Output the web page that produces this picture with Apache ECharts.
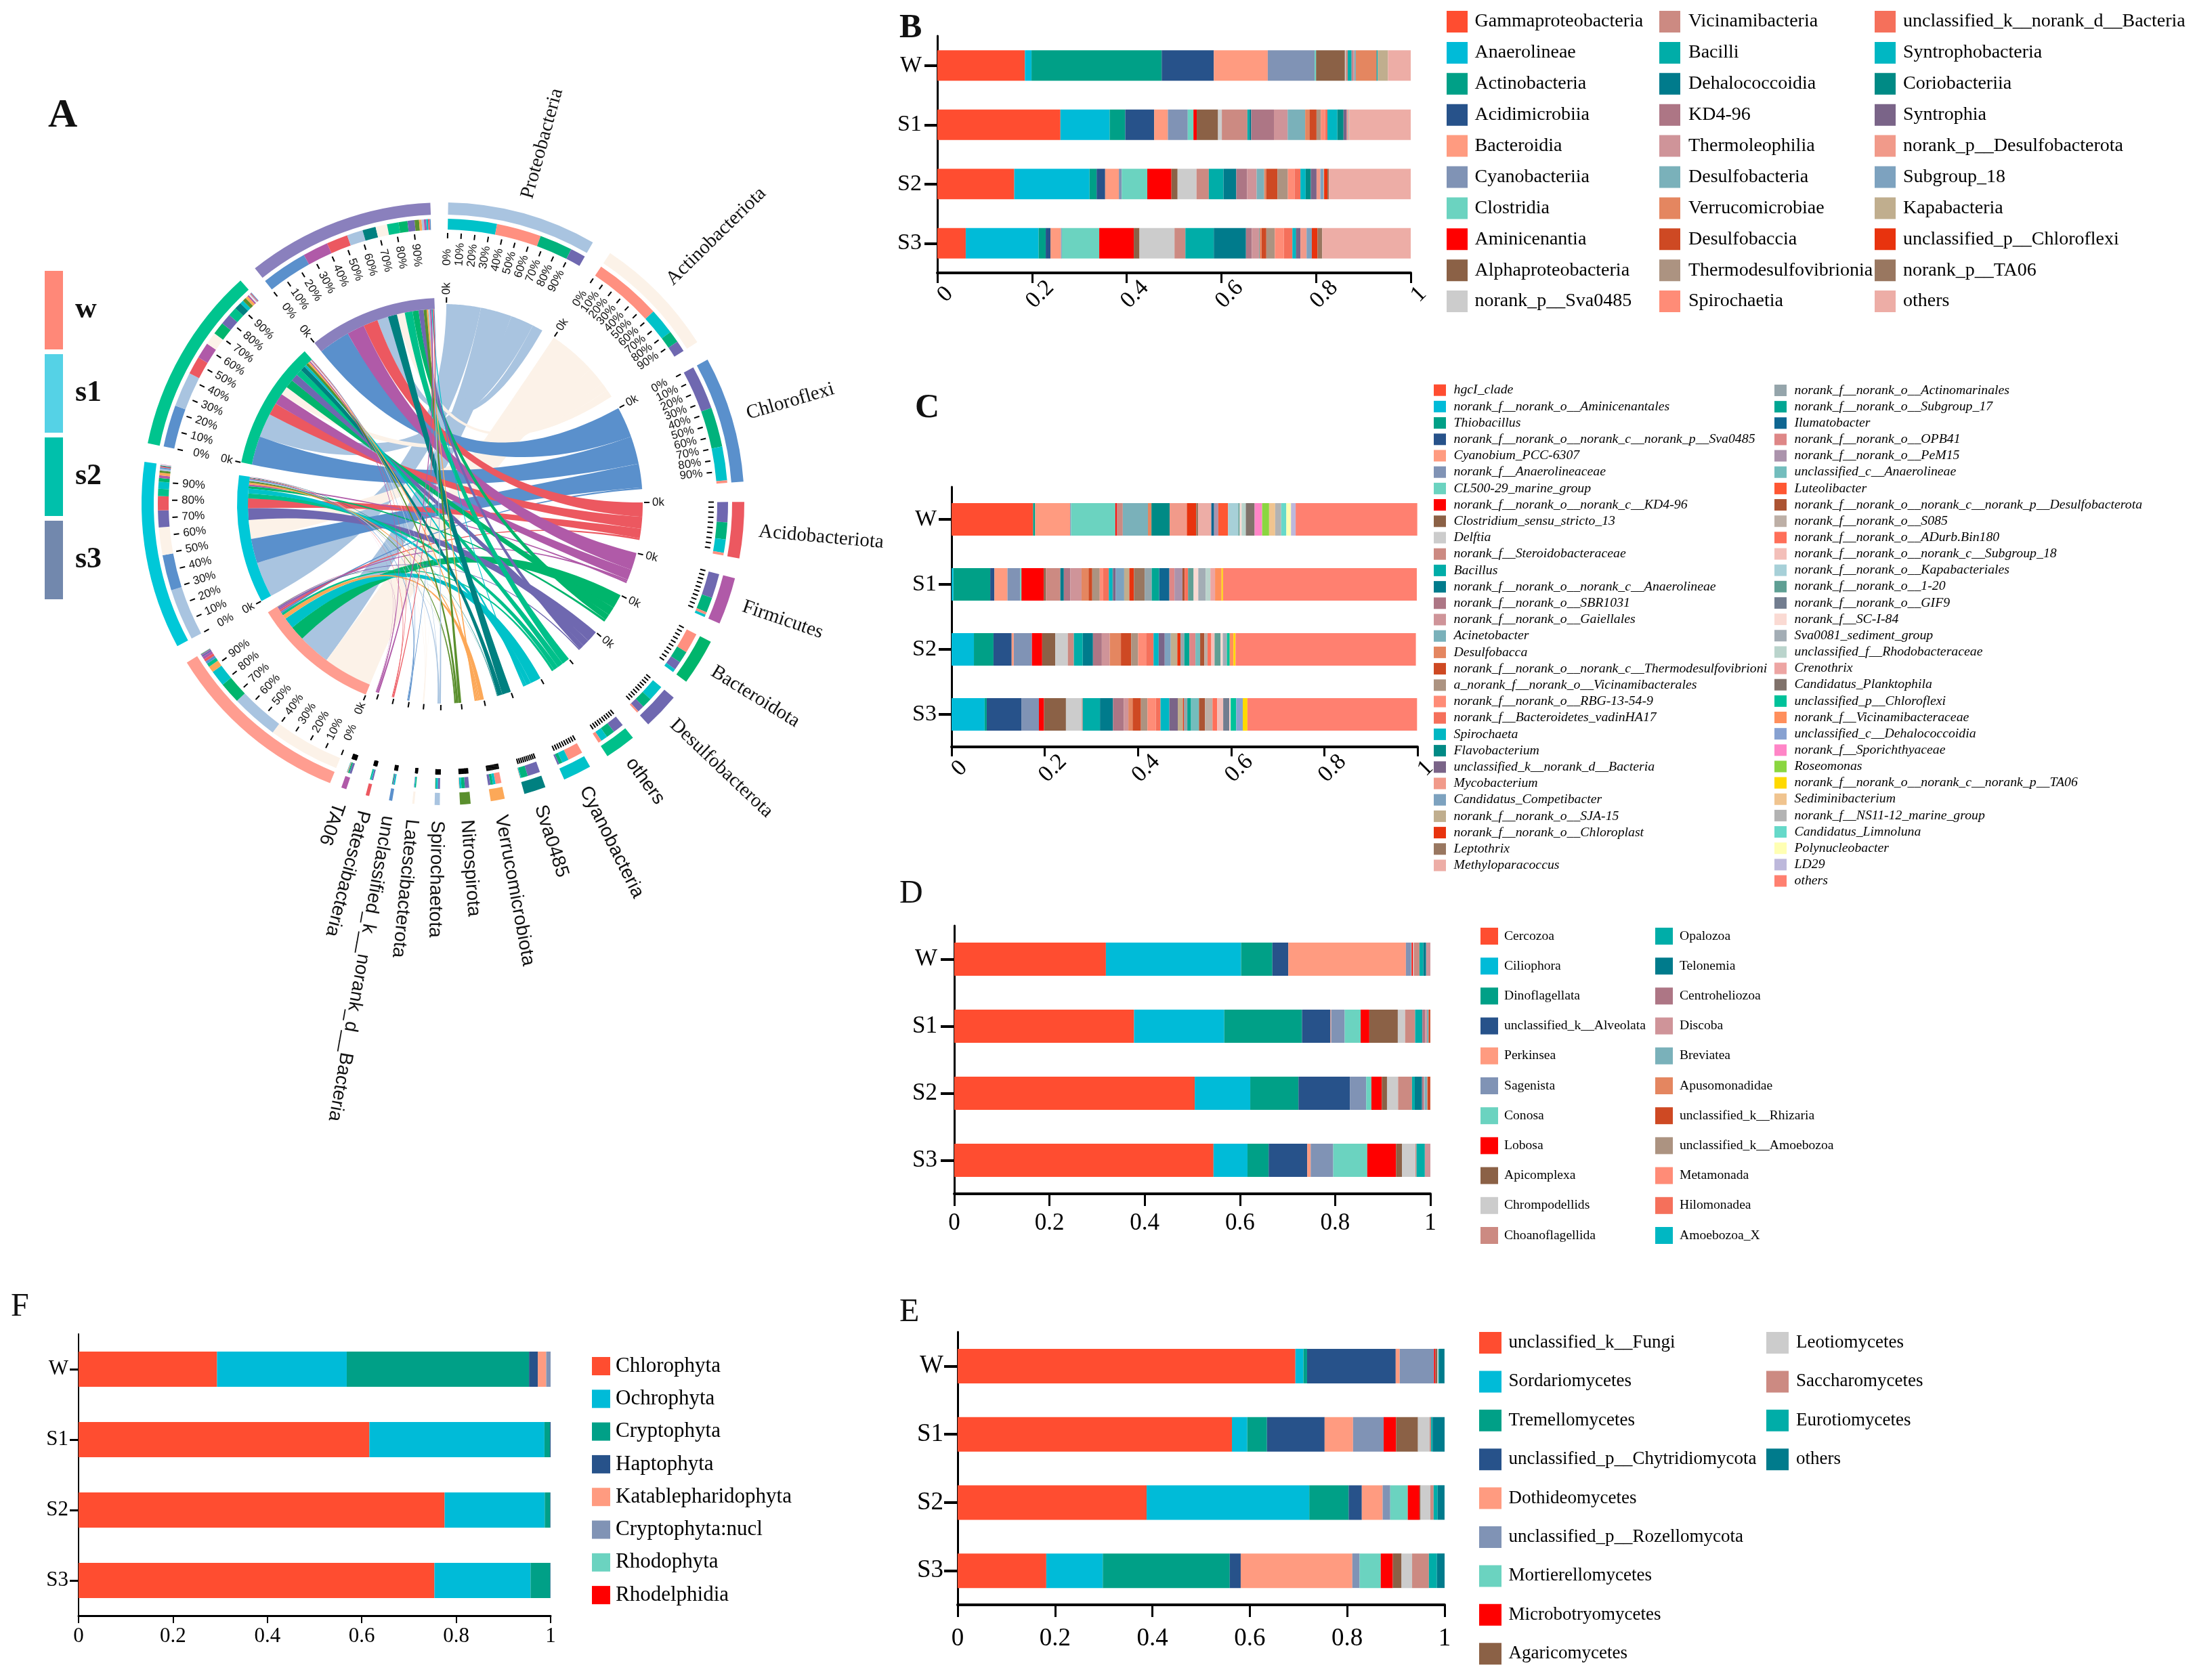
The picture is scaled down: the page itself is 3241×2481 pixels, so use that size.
<!DOCTYPE html>
<html><head><meta charset="utf-8">
<style>html,body{margin:0;padding:0;background:#fff}#c{width:3241px;height:2481px}</style>
<script src="https://cdn.jsdelivr.net/npm/echarts@6/dist/echarts.min.js"></script>
</head><body><div id="c"></div>
<script>
const rowCats = ['W','S1','S2','S3'];
const xTicks = {min:0,max:1,interval:0.2};

/* ---------- shared palette ---------- */
const palette = ['#FF4D30','#00BBD8','#00A087','#27528A','#FF9B80','#8093B5','#6BD3C0','#FF0000','#8B6146','#CCCCCC','#CC8A82','#00ADA8','#007B8C','#AD7685','#CF9499','#7AB1BA','#E48660','#CE4923','#AC9381','#FF8C77','#F5705B','#00B7C3','#008A85','#7A6488','#F19A8A','#7DA2BF','#C0AE8E','#E8330E','#997760','#EDADA6'];
const paletteExtra = ['#95A5AB','#00A693','#0F6691','#DE8787','#AB93AC','#73BDBD','#FF5733','#AC5433','#BDAFA6','#FF6F59','#F3BFB9','#A7D0D8','#5F9F94','#727D8F','#FADAD3','#A3ADB5','#BAD4CC','#EDA5A3','#80726B','#00C29A','#FF8F5C','#87A1D1','#FF85C7','#8BD640','#FFD900','#F0C48F','#B3B3B3','#66D9C9','#FFFFB3','#BDB8DB','#FF8070'];

/* ---------- panel B ---------- */
const bNames = ['Gammaproteobacteria','Anaerolineae','Actinobacteria','Acidimicrobiia','Bacteroidia','Cyanobacteriia','Clostridia','Aminicenantia','Alphaproteobacteria','norank_p__Sva0485','Vicinamibacteria','Bacilli','Dehalococcoidia','KD4-96','Thermoleophilia','Desulfobacteria','Verrucomicrobiae','Desulfobaccia','Thermodesulfovibrionia','Spirochaetia','unclassified_k__norank_d__Bacteria','Syntrophobacteria','Coriobacteriia','Syntrophia','norank_p__Desulfobacterota','Subgroup_18','Kapabacteria','unclassified_p__Chloroflexi','norank_p__TA06','others'];
const bW  = [.185,.014,.275,.110,.114,.099,.003,0,.061,.002,.004,.008,0,.002,.004,.003,.043,.001,0,0,0,.002,0,0,0,0,.022,0,0,.048];
const bS1 = [.260,.104,.033,.061,.029,.042,.012,.007,.045,.008,.054,.004,.004,.048,.029,.037,.009,.015,.009,.009,.005,.021,.013,.007,.003,.001,.001,0,0,.130];
const bS2 = [.1625,.159,.015,.018,.029,.006,.054,.051,.013,.040,.026,.031,.027,.023,.020,.016,.004,.024,.022,.014,.0125,.011,.011,.012,.008,.007,.001,.007,.003,.174];
const bS3 = [.060,.154,.015,.010,.022,.002,.079,.073,.012,.074,.023,.060,.068,.0125,.015,.0015,.004,.010,.018,.019,.018,.007,.001,.009,.013,.011,0,.012,.010,.189];

/* ---------- panel C (values keyed by 1-based legend position) ---------- */
const cNames = ['hgcI_clade','norank_f__norank_o__Aminicenantales','Thiobacillus','norank_f__norank_o__norank_c__norank_p__Sva0485','Cyanobium_PCC-6307','norank_f__Anaerolineaceae','CL500-29_marine_group','norank_f__norank_o__norank_c__KD4-96','Clostridium_sensu_stricto_13','Delftia','norank_f__Steroidobacteraceae','Bacillus','norank_f__norank_o__norank_c__Anaerolineae','norank_f__norank_o__SBR1031','norank_f__norank_o__Gaiellales','Acinetobacter','Desulfobacca','norank_f__norank_o__norank_c__Thermodesulfovibrioni','a_norank_f__norank_o__Vicinamibacterales','norank_f__norank_o__RBG-13-54-9','norank_f__Bacteroidetes_vadinHA17','Spirochaeta','Flavobacterium','unclassified_k__norank_d__Bacteria','Mycobacterium','Candidatus_Competibacter','norank_f__norank_o__SJA-15','norank_f__norank_o__Chloroplast','Leptothrix','Methyloparacoccus','norank_f__norank_o__Actinomarinales','norank_f__norank_o__Subgroup_17','Ilumatobacter','norank_f__norank_o__OPB41','norank_f__norank_o__PeM15','unclassified_c__Anaerolineae','Luteolibacter','norank_f__norank_o__norank_c__norank_p__Desulfobacterota','norank_f__norank_o__S085','norank_f__norank_o__ADurb.Bin180','norank_f__norank_o__norank_c__Subgroup_18','norank_f__norank_o__Kapabacteriales','norank_f__norank_o__1-20','norank_f__norank_o__GIF9','norank_f__SC-I-84','Sva0081_sediment_group','unclassified_f__Rhodobacteraceae','Crenothrix','Candidatus_Planktophila','unclassified_p__Chloroflexi','norank_f__Vicinamibacteraceae','unclassified_c__Dehalococcoidia','norank_f__Sporichthyaceae','Roseomonas','norank_f__norank_o__norank_c__norank_p__TA06','Sediminibacterium','norank_f__NS11-12_marine_group','Candidatus_Limnoluna','Polynucleobacter','LD29','others'];
const cW  = {1:.175,3:.0045,5:.075,6:.002,7:.095,8:.003,11:.013,16:.054,17:.0075,23:.039,25:.037,28:.020,29:.0045,30:.028,33:.006,35:.009,37:.021,42:.022,43:.003,45:.004,47:.009,49:.019,53:.016,54:.015,56:.013,57:.013,58:.011,59:.010,60:.010,61:.261};
const cS1 = {2:.004,3:.079,4:.009,5:.028,6:.027,7:.003,8:.048,9:.0045,11:.031,13:.0075,14:.014,15:.024,17:.015,18:.008,19:.016,20:.0075,21:.012,22:.0075,23:.0015,24:.006,26:.018,27:.011,28:.010,29:.023,31:.015,32:.016,33:.022,34:.011,35:.017,38:.005,40:.007,43:.012,45:.010,46:.016,47:.010,48:.010,51:.014,55:.003,61:.416};
const cS2 = {2:.048,3:.042,4:.039,5:.0045,6:.039,8:.022,9:.028,10:.027,11:.013,12:.019,13:.022,14:.019,15:.017,17:.024,18:.022,19:.015,20:.017,21:.016,22:.011,24:.013,26:.013,27:.014,28:.007,31:.008,32:.011,34:.013,36:.010,38:.009,39:.007,40:.008,41:.007,43:.013,45:.0045,46:.009,50:.006,51:.008,55:.0045,61:.387};
const cS3 = {2:.071,3:.0045,4:.075,6:.037,8:.011,9:.047,10:.034,11:.002,12:.037,13:.028,14:.023,15:.010,17:.009,18:.018,19:.014,20:.018,21:.010,22:.019,24:.018,27:.011,28:.002,31:.0075,32:.008,36:.017,38:.013,39:.016,40:.010,41:.013,44:.013,45:.003,50:.012,52:.014,55:.010,61:.364};

/* ---------- panel D ---------- */
const dNames = ['Cercozoa','Ciliophora','Dinoflagellata','unclassified_k__Alveolata','Perkinsea','Sagenista','Conosa','Lobosa','Apicomplexa','Chrompodellids','Choanoflagellida','Opalozoa','Telonemia','Centroheliozoa','Discoba','Breviatea','Apusomonadidae','unclassified_k__Rhizaria','unclassified_k__Amoebozoa','Metamonada','Hilomonadea','Amoebozoa_X'];
const dW  = [.3185,.284,.0656,.0335,.247,.011,.001,.003,0,.0015,.012,.008,.006,0,.009,0,0,0,0,0,0,0];
const dS1 = [.3776,.1895,.1633,.0598,.0015,.0284,.0335,.0182,.0598,.0153,.0211,.0138,.0015,.0058,.0036,.0036,0,.0036,0,0,0,0];
const dS2 = [.5051,.1166,.1013,.1079,0,.0343,.0109,.0219,.0109,.0233,.0292,.0058,.0153,.0036,.0015,.0058,.0007,.0058,0,0,0,0];
const dS3 = [.5445,.0714,.0445,.0809,.0073,.0474,.0714,.0605,.0124,.0284,.0022,.0175,0,0,.0117,0,0,0,0,0,0,0];

/* ---------- panel E ---------- */
const eNames = ['unclassified_k__Fungi','Sordariomycetes','Tremellomycetes','unclassified_p__Chytridiomycota','Dothideomycetes','unclassified_p__Rozellomycota','Mortierellomycetes','Microbotryomycetes','Agaricomycetes','Leotiomycetes','Saccharomycetes','Eurotiomycetes','others'];
const eW  = [.6936,.0165,.0075,.182,.0082,.0704,0,.003,.0037,.0022,0,.0015,.0112];
const eS1 = [.5633,.0315,.0404,.1184,.0584,.0629,0,.0255,.0449,.024,.003,.003,.0247];
const eS2 = [.388,.3341,.0809,.027,.0427,.0157,.036,.024,.0022,.0202,.0067,.0082,.0142];
const eS3 = [.182,.1161,.2607,.0225,.2292,.015,.0434,.0247,.018,.0217,.0345,.0165,.0157];

/* ---------- panel F ---------- */
const fNames = ['Chlorophyta','Ochrophyta','Cryptophyta','Haptophyta','Katablepharidophyta','Cryptophyta:nucl','Rhodophyta','Rhodelphidia'];
const fW  = [.2933,.2748,.3862,.0186,.0178,.0093,0,0];
const fS1 = [.6161,.3708,.0116,.0015,0,0,0,0];
const fS2 = [.7755,.2121,.0116,.0008,0,0,0,0];
const fS3 = [.7539,.2036,.0418,.0007,0,0,0,0];

/* ---------- panel A : flows sample -> phylum ---------- */
const sampleNames = ['w','s1','s2','s3'];
const phylaNames = ['Proteobacteria','Actinobacteriota','Chloroflexi','Acidobacteriota','Firmicutes','Bacteroidota','Desulfobacterota','others','Cyanobacteria','Sva0485','Verrucomicrobiota','Nitrospirota','Spirochaetota','Latescibacterota','unclassified_k__norank_d__Bacteria','Patescibacteria','TA06'];
const flowW  = [26.5,40.5,1.5,1.5,1.5,12,1,2,9,.2,3.5,.2,.1,0,0,0,.5];
const flowS1 = [29,15.5,20,8,1.5,2,9.5,4,4,.5,1.5,1.2,1,.4,.8,.6,.2];
const flowS2 = [19.5,7,23.5,10,9,7,6,5,2,4,1.5,2,.5,.6,.4,.5,.9];
const flowS3 = [9,6.5,26,12,14.5,5,4,6.5,1,7.5,1.4,2.5,1.3,.2,.6,.9,1.3];
const flows = [flowW,flowS1,flowS2,flowS3];
const percentTicks = [0,10,20,30,40,50,60,70,80,90];
const phylaColors = ['#A9C4E0','#FCF2E8','#5A90CC','#EC5860','#B05AA8','#00B56C','#6F68B0','#00C08A','#00C2C9','#008080','#FCA858','#5A8F2D','#A9C4E0','#FCF2E8','#5A90CC','#EC5860','#B05AA8'];
const sampleColors = ['#FF9D90','#00C8D8','#00C48E','#8A80BD'];
const sampleMidColors = ['#FF9080','#00C2C9','#00B27C','#6F68B0'];
const sampleKeyColors = ['#FF8878','#55D2E6','#00C0AB','#7288AD'];

/* ---------- chord geometry ---------- */
const cx=654, cy=744;
const R = {phy:295, sam0:288, sam1:304, tick0:392, tick1:400, mid0:405, mid1:421, out0:427, out1:445, pct:352, name:468};
const rad = d => d*Math.PI/180;
const P = (deg,r) => [cx+r*Math.sin(rad(deg)), cy-r*Math.cos(rad(deg))];
const phyTotal = phylaNames.map((_,p)=>flows.reduce((a,f)=>a+f[p],0));
const samTotal = flows.map(f=>f.reduce((a,b)=>a+b,0));
const phyGap=3.85, phyStart=1, phyEnd=199.7, samStart=202, samSpan=36.2, samGap=3.6;
const phyK=(phyEnd-phyStart-phyGap*(phylaNames.length-1))/phyTotal.reduce((a,b)=>a+b,0);
const phySec=[], samSec=[], phyArc=phylaNames.map(()=>[]), samArc=sampleNames.map(()=>[]);
let acc=phyStart;
phylaNames.forEach((_,p)=>{
  const a=acc, b=a+phyTotal[p]*phyK; phySec.push([a,b]); acc=b+phyGap;
  const order=sampleNames.map((_,s)=>s).sort((m,n)=>flows[n][p]-flows[m][p]);
  let t=a; order.forEach(s=>{const w=flows[s][p]*phyK; phyArc[p][s]=[t,t+w]; t+=w;});
  phyArc[p].order=order;
});
acc=samStart;
sampleNames.forEach((_,s)=>{
  const a=acc, k=samSpan/samTotal[s]; samSec.push([a,a+samSpan]); acc=a+samSpan+samGap;
  const order=phylaNames.map((_,p)=>p).sort((m,n)=>flows[s][n]-flows[s][m]);
  let t=a; order.forEach(p=>{const w=flows[s][p]*k; samArc[s][p]=[t,t+w]; t+=w;});
  samArc[s].order=order;
});
function arcPts(a,b,r){const n=Math.max(2,Math.ceil(Math.abs(b-a)/.5)+1),o=[];for(let i=0;i<n;i++)o.push(P(a+(b-a)*i/(n-1),r));return o;}
function bez(p0,p1){const o=[];for(let i=1;i<40;i++){const t=i/40,u=1-t;o.push([u*u*p0[0]+2*u*t*cx+t*t*p1[0],u*u*p0[1]+2*u*t*cy+t*t*p1[1]]);}return o;}
function ribbon(a,b){const A=arcPts(a[0],a[1],R.sam0),B=arcPts(b[0],b[1],R.phy);
  return [].concat(A,bez(A[A.length-1],B[0]),B,bez(B[B.length-1],A[0]));}
const sect=(a,b,r0,r,fill)=>({type:'sector',silent:true,shape:{cx,cy,r0,r,startAngle:rad(a-90),endAngle:rad(b-90),clockwise:true},style:{fill}});
const tick=(deg,r0,r1,w)=>{const p=P(deg,r0),q=P(deg,r1);return {type:'line',silent:true,shape:{x1:p[0],y1:p[1],x2:q[0],y2:q[1]},style:{stroke:'#000',lineWidth:w||2}};};
const label=(txt,deg,r,font,outward)=>{const p=P(deg,r);const left=outward||deg<180;
  return {type:'text',silent:true,x:p[0],y:p[1],rotation:rad(left?90-deg:270-deg),
    style:{text:txt,x:0,y:0,font,fill:'#111',align:left?'left':'right',verticalAlign:'middle',textAlign:left?'left':'right',textVerticalAlign:'middle'}};};
function decor(){
  const kids=[];
  const addScale=(a,b,withPct)=>{
    percentTicks.forEach(v=>{const d=a+(b-a)*v/100;kids.push(tick(d,R.tick0,R.tick1,2));
      if(withPct)kids.push(label(v+'%',d,R.pct,'17px "Liberation Sans"'));});
  };
  phylaNames.forEach((n,p)=>{
    const [a,b]=phySec[p];
    kids.push(sect(a,b,R.out0,R.out1,phylaColors[p]));
    phyArc[p].order.forEach(s=>{const w=phyArc[p][s];if(w[1]>w[0])kids.push(sect(w[0],w[1],R.mid0,R.mid1,sampleMidColors[s]));});
    addScale(a,b,phyTotal[p]>40);
    kids.push(tick(a,R.phy+2,R.phy+10,2));
    if(phyTotal[p]>=20)kids.push(label('0k',a,R.phy+14,'17px "Liberation Sans"'));
    kids.push(label(n,(a+b)/2,R.name,(p<7?'29px "Liberation Serif"':'28px "Liberation Sans"'),true));
  });
  sampleNames.forEach((n,s)=>{
    const [a,b]=samSec[s];
    kids.push(sect(a,b,R.out0,R.out1,sampleColors[s]));
    kids.push(sect(a,b,R.sam0,R.sam1,sampleColors[s]));
    samArc[s].order.forEach(p=>{const w=samArc[s][p];if(w[1]>w[0])kids.push(sect(w[0],w[1],R.mid0,R.mid1,phylaColors[p]));});
    addScale(a,b,true);
    kids.push(tick(a,R.sam1+1,R.sam1+9,2));
    kids.push(label('0k',a,R.sam1+13,'17px "Liberation Sans"'));
  });
  return {type:'group',children:kids};
}

/* ---------- option assembly ---------- */
const grids=[],xAxes=[],yAxes=[],series=[],legends=[];
function barPanel(g,names,colors,rows,cfg){
  const i=grids.length;
  grids.push({left:g[0],top:g[1],width:g[2]-g[0],height:g[3]-g[1],containLabel:false});
  xAxes.push(Object.assign({gridIndex:i,type:'value',splitLine:{show:false},
    axisLine:{show:true,lineStyle:{color:'#000',width:cfg.xLine}},
    axisTick:{show:true,length:cfg.xTick,lineStyle:{color:'#000',width:cfg.tickW}},
    axisLabel:Object.assign({show:true,color:'#000',fontFamily:'Liberation Serif',fontSize:cfg.font,margin:cfg.xMargin,showMinLabel:true,showMaxLabel:true,hideOverlap:false},cfg.xRot?{rotate:45,align:'center',verticalAlign:'top'}:{})},xTicks));
  yAxes.push({gridIndex:i,type:'category',inverse:true,data:rowCats,
    axisLine:{show:true,lineStyle:{color:'#000',width:cfg.yLine}},
    axisTick:{show:true,alignWithLabel:true,length:cfg.yTick,lineStyle:{color:'#000',width:cfg.tickW+1}},
    axisLabel:{color:'#000',fontFamily:'Liberation Serif',fontSize:cfg.font,margin:cfg.yMargin}});
  names.forEach((n,k)=>series.push({type:'bar',name:n,xAxisIndex:i,yAxisIndex:i,stack:'p'+i,barWidth:cfg.bar,silent:true,
    itemStyle:{color:colors[k]},data:rows.map(r=>r[k])}));
}
function legendCol(names,colors,a,b,cfg){
  const H=Math.max(cfg.h,Math.round(cfg.font));
  legends.push({orient:'vertical',left:cfg.left,top:cfg.top-(H-cfg.h)/2,padding:0,icon:'rect',selectedMode:false,
    itemWidth:cfg.w,itemHeight:cfg.h,itemGap:cfg.gap-H,
    textStyle:{color:'#000',fontFamily:'Liberation Serif',fontSize:cfg.font,fontStyle:cfg.italic?'italic':'normal',lineHeight:cfg.h,padding:[0,0,0,cfg.pad||0]},
    data:names.slice(a,b).map((n,k)=>({name:n,itemStyle:{color:colors[a+k],borderWidth:0}}))});
}
const expand=(o,n)=>Array.from({length:n},(_,i)=>o[i+1]||0);
const cColors=palette.concat(paletteExtra);

barPanel([1384,53,2083,403],bNames,palette,[bW,bS1,bS2,bS3],{xLine:4,yLine:3,xTick:15,yTick:19,tickW:3,font:34,xMargin:20,yMargin:23,bar:45,xRot:true});
barPanel([1405,719,2093,1103],cNames,cColors,[cW,cS1,cS2,cS3].map(o=>expand(o,61)),{xLine:4,yLine:3,xTick:14,yTick:19,tickW:3,font:34,xMargin:20,yMargin:22,bar:48,xRot:true});
barPanel([1409,1367,2112,1763],dNames,palette,[dW,dS1,dS2,dS3],{xLine:4,yLine:3,xTick:18,yTick:20,tickW:3,font:35,xMargin:26,yMargin:25,bar:49});
barPanel([1414,1967,2133,2370],eNames,palette,[eW,eS1,eS2,eS3],{xLine:4,yLine:3,xTick:18,yTick:20,tickW:3,font:37,xMargin:32,yMargin:21,bar:51});
barPanel([116,1970,813,2386],fNames,palette,[fW,fS1,fS2,fS3],{xLine:3,yLine:2,xTick:11,yTick:13,tickW:2,font:31,xMargin:15,yMargin:15,bar:52});

legendCol(bNames,palette,0,10,{left:2136,top:16,w:31,h:32,gap:45.9,font:28,pad:5.5});
legendCol(bNames,palette,10,20,{left:2450,top:16,w:31,h:32,gap:45.9,font:28,pad:7});
legendCol(bNames,palette,20,30,{left:2768,top:16,w:31,h:32,gap:45.9,font:28,pad:6});
legendCol(cNames,cColors,0,30,{left:2117,top:567.7,w:18,h:17,gap:24.2,font:19.8,italic:true,pad:6.5});
legendCol(cNames,cColors,30,61,{left:2620,top:568,w:18,h:17,gap:24.15,font:19.8,italic:true,pad:6.5});
legendCol(dNames,palette,0,11,{left:2186,top:1370,w:26,h:25,gap:44.2,font:19.6,pad:4});
legendCol(dNames,palette,11,22,{left:2444,top:1370,w:26,h:25,gap:44.2,font:19.6,pad:5});
legendCol(eNames,palette,0,9,{left:2184,top:1967,w:33,h:32,gap:57.4,font:27,pad:5.5});
legendCol(eNames,palette,9,13,{left:2608,top:1967,w:33,h:32,gap:57.4,font:27,pad:6});
legendCol(fNames,palette,0,8,{left:874,top:2004,w:27,h:27,gap:48.3,font:31,pad:3});
legends.push({orient:'vertical',left:66,top:400,padding:0,icon:'rect',selectedMode:false,itemWidth:27,itemHeight:116,itemGap:7,
  textStyle:{color:'#111',fontFamily:'Liberation Serif',fontWeight:'bold',fontSize:44,lineHeight:116,padding:[0,0,0,13]},
  data:sampleNames.map((n,k)=>({name:n,itemStyle:{color:sampleKeyColors[k],borderWidth:0}}))});

sampleNames.forEach((n,s)=>series.push({type:'custom',name:n,coordinateSystem:'none',silent:true,z:2,
  data:flows[s].map((v,p)=>[p,v]),
  renderItem:(params,api)=>{const p=api.value(0),v=api.value(1);if(!(v>0))return null;
    return {type:'polygon',silent:true,z2:p,shape:{points:ribbon(samArc[s][p],phyArc[p][s])},style:{fill:phylaColors[p]}};}}));
series.push({type:'custom',name:'scale',coordinateSystem:'none',silent:true,z:3,data:[[0]],renderItem:()=>decor()});

const letter=(t,x,y,size,w)=>({text:t,left:x,top:y,padding:0,textStyle:{fontFamily:'Liberation Serif',fontSize:size,fontWeight:w,color:'#111'}});
const chart=echarts.init(document.getElementById('c'),null,{renderer:'canvas'});
chart.setOption({animation:false,backgroundColor:'#fff',
  title:[letter('A',71,141,60,'bold'),letter('B',1328,17,50,'bold'),letter('C',1351,578,50,'bold'),letter('D',1328,1296,48,'normal'),letter('E',1328,1914,48,'normal'),letter('F',16,1906,48,'normal')],
  grid:grids,xAxis:xAxes,yAxis:yAxes,legend:legends,series});
</script></body></html>
